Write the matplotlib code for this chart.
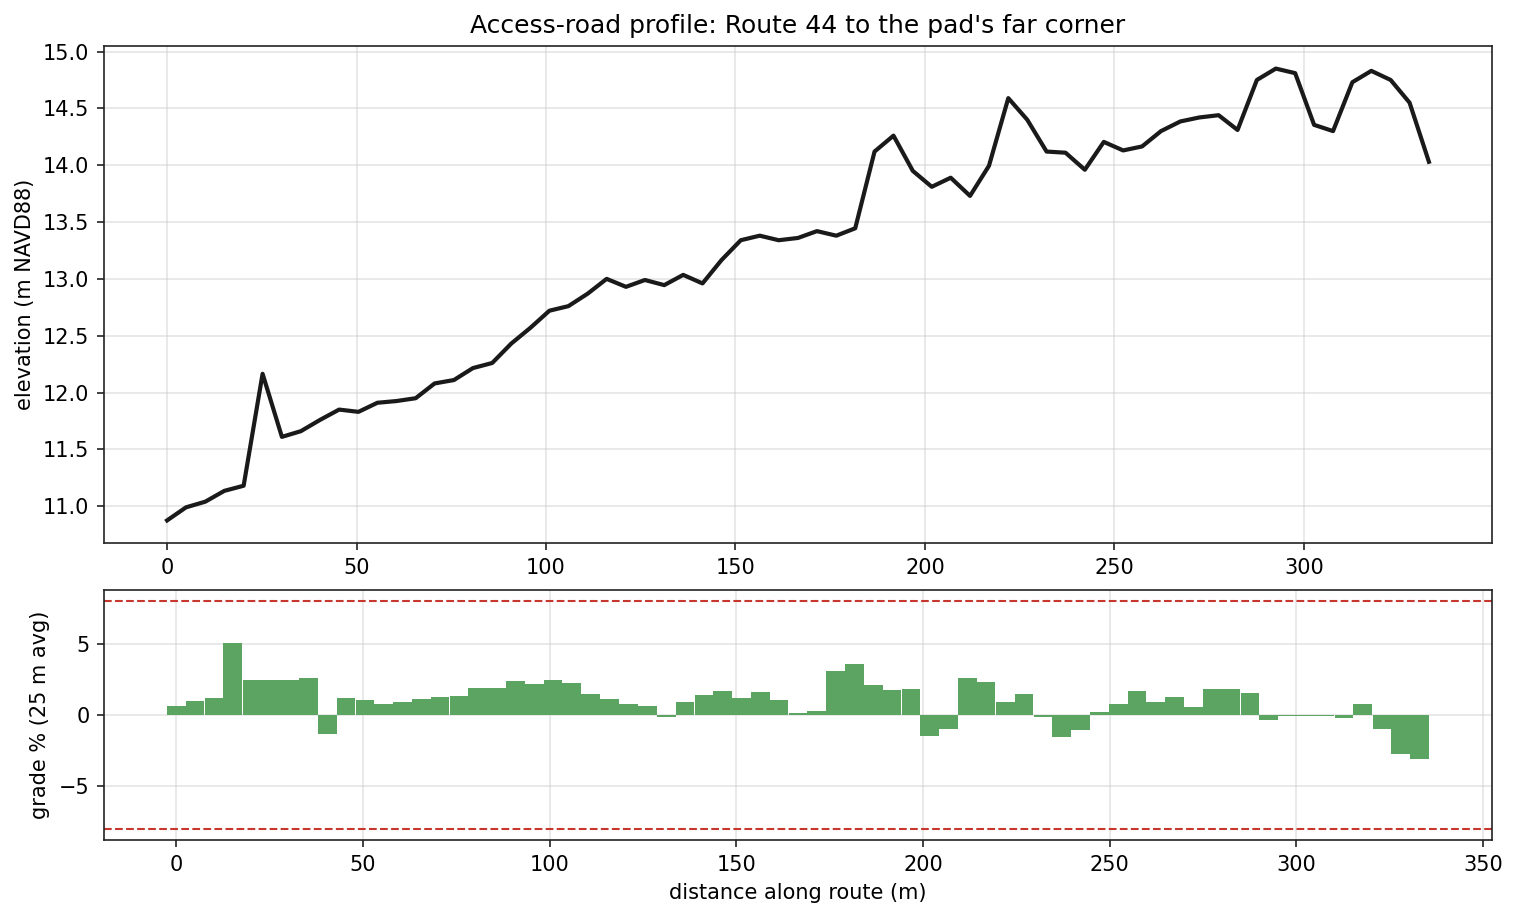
import matplotlib
matplotlib.use("Agg")
import matplotlib.pyplot as plt

distance_m = [0.0, 5.0, 10.1, 15.1, 20.2, 25.2, 30.3, 35.3, 40.4, 45.4,
              50.5, 55.5, 60.5, 65.6, 70.6, 75.7, 80.7, 85.8, 90.8, 95.9,
              100.9, 105.9, 111.0, 116.0, 121.1, 126.1, 131.2, 136.2, 141.3, 146.3,
              151.4, 156.4, 161.4, 166.5, 171.5, 176.6, 181.6, 186.7, 191.7, 196.8,
              201.8, 206.8, 211.9, 216.9, 222.0, 227.0, 232.1, 237.1, 242.2, 247.2,
              252.3, 257.3, 262.3, 267.4, 272.4, 277.5, 282.5, 287.6, 292.6, 297.7,
              302.7, 307.7, 312.8, 317.8, 322.9, 327.9, 333.0]

elevation_m = [10.875, 10.99, 11.04, 11.135, 11.18, 12.165, 11.61, 11.66, 11.76, 11.85,
               11.83, 11.91, 11.925, 11.95, 12.08, 12.11, 12.215, 12.26, 12.43, 12.57,
               12.72, 12.76, 12.87, 13.00, 12.93, 12.99, 12.945, 13.035, 12.96, 13.165,
               13.34, 13.38, 13.34, 13.36, 13.42, 13.38, 13.445, 14.12, 14.26, 13.95,
               13.81, 13.89, 13.73, 13.995, 14.59, 14.40, 14.12, 14.11, 13.96, 14.205,
               14.13, 14.165, 14.30, 14.385, 14.42, 14.44, 14.31, 14.75, 14.85, 14.81,
               14.355, 14.30, 14.73, 14.83, 14.75, 14.55, 14.03]

grade_pct = [0.63, 0.98, 1.19, 5.05, 2.45, 2.45, 2.45, 2.59, -1.33, 1.19,
             1.05, 0.77, 0.91, 1.12, 1.26, 1.33, 1.89, 1.89, 2.38, 2.17,
             2.45, 2.25, 1.48, 1.13, 0.77, 0.63, -0.14, 0.92, 1.41, 1.69,
             1.20, 1.62, 1.06, 0.14, 0.28, 3.10, 3.59, 2.11, 1.76, 1.83,
             -1.48, -0.99, 2.61, 2.32, 0.92, 1.48, -0.14, -1.55, -1.06, 0.21,
             0.77, 1.69, 0.92, 1.27, 0.56, 1.83, 1.83, 1.55, -0.35, -0.07,
             -0.07, -0.07, -0.21, 0.77, -0.99, -2.75, -3.10]

grade_limit = 8

fig = plt.figure(figsize=(1517 / 150, 917 / 150), dpi=150)
ax1 = fig.add_axes([104 / 1517, 1 - 543 / 917, (1492 - 104) / 1517, (543 - 46) / 917])
ax2 = fig.add_axes([104 / 1517, 1 - 840 / 917, (1492 - 104) / 1517, (840 - 590) / 917])

spine_col = "#222222"
for ax in (ax1, ax2):
    for s in ax.spines.values():
        s.set_color(spine_col)
    ax.grid(True, color="#cccccc", alpha=0.5, linewidth=0.8)
    ax.set_axisbelow(True)
    ax.tick_params(colors=spine_col, labelcolor="black")

ax1.plot(distance_m, elevation_m, color="#1a1a1a", linewidth=2)
ax1.set_ylabel("elevation (m NAVD88)")
ax1.set_title("Access-road profile: Route 44 to the pad's far corner", fontsize=12)

ax2.bar(distance_m, grade_pct, width=5.0, color="#5ca462")
ax2.axhline(grade_limit, color="#c8372d", linestyle="--", linewidth=1)
ax2.axhline(-grade_limit, color="#c8372d", linestyle="--", linewidth=1)
ax2.set_ylabel("grade % (25 m avg)")
ax2.set_xlabel("distance along route (m)")

fig.savefig("out.png", dpi=150)
